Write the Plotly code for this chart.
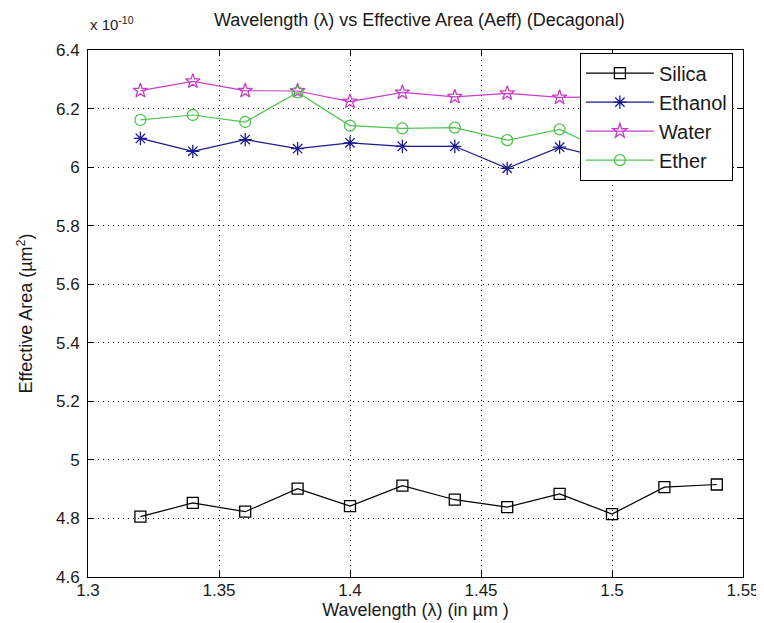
import plotly.graph_objects as go

wavelength = [1.32, 1.34, 1.36, 1.38, 1.40, 1.42, 1.44, 1.46, 1.48, 1.50, 1.52, 1.54]
silica  = [4.806, 4.853, 4.823, 4.902, 4.842, 4.912, 4.864, 4.839, 4.884, 4.815, 4.907, 4.916]
ethanol = [6.098, 6.054, 6.094, 6.063, 6.083, 6.071, 6.071, 5.996, 6.068, 6.025, 6.060, 6.050]
water   = [6.261, 6.293, 6.261, 6.260, 6.224, 6.255, 6.240, 6.252, 6.238, 6.240, 6.250, 6.240]
ether   = [6.161, 6.178, 6.154, 6.255, 6.142, 6.132, 6.135, 6.092, 6.129, 6.045, 6.100, 6.090]

x_ticks = [1.3, 1.35, 1.4, 1.45, 1.5, 1.55]
x_ticktext = ["1.3", "1.35", "1.4", "1.45", "1.5", "1.55"]
y_ticks = [4.6, 4.8, 5.0, 5.2, 5.4, 5.6, 5.8, 6.0, 6.2, 6.4]
y_ticktext = ["4.6", "4.8", "5", "5.2", "5.4", "5.6", "5.8", "6", "6.2", "6.4"]

FONT = "Liberation Sans, Arial, sans-serif"
TXT = "#1a1a1a"

fig = go.Figure()
series = [
    ("Silica", silica, "#000000", "square-open", 11),
    ("Ethanol", ethanol, "#1a1a8c", "asterisk-open", 11),
    ("Water", water, "#c63fc6", "star-open", 11),
    ("Ether", ether, "#4fc44f", "circle-open", 11),
]
for name, vals, color, sym, size in series:
    fig.add_trace(go.Scatter(
        x=wavelength, y=vals, name=name, mode="lines+markers",
        line=dict(color=color, width=1.2),
        marker=dict(symbol=sym, size=size, color=color, line=dict(color=color, width=1.3)),
    ))

axis_common = dict(
    showline=True, linecolor="black", linewidth=1, mirror="ticks",
    ticks="inside", ticklen=6, tickcolor="black",
    showgrid=True, gridcolor="black", gridwidth=1, griddash="1px,4px",
    zeroline=False, tickfont=dict(family=FONT, size=17, color=TXT),
)
fig.update_xaxes(range=[1.3, 1.55], tickvals=x_ticks, ticktext=x_ticktext,
                 ticklabelstandoff=-2,
                 title=dict(text="Wavelength (λ) (in µm )", font=dict(family=FONT, size=18, color=TXT), standoff=0),
                 **axis_common)
fig.update_yaxes(range=[4.6, 6.4], tickvals=y_ticks, ticktext=y_ticktext,
                 ticklabelstandoff=4,
                 title=dict(text="Effective Area (µm<sup>2</sup>)", font=dict(family=FONT, size=18, color=TXT), standoff=18),
                 **axis_common)

fig.add_annotation(text="x 10<sup>-10</sup>", xref="paper", yref="paper", x=0, y=1.0,
                   xanchor="left", yanchor="bottom", showarrow=False,
                   font=dict(family=FONT, size=15, color=TXT), yshift=15)

fig.update_layout(
    width=764, height=623,
    margin=dict(l=80, r=21, t=42, b=54),
    paper_bgcolor="white", plot_bgcolor="white",
    title=dict(text="Wavelength (λ) vs Effective Area (Aeff) (Decagonal)", x=0.5385, xanchor="center",
               y=0.982, yanchor="middle", font=dict(family=FONT, size=18, color=TXT)),
    legend=dict(x=0.751, y=0.995, xanchor="left", yanchor="top",
                bgcolor="white", bordercolor="black", borderwidth=1,
                font=dict(family=FONT, size=20, color=TXT), itemwidth=68,
                tracegroupgap=0),
    showlegend=True,
)

fig.write_html("out.html")
